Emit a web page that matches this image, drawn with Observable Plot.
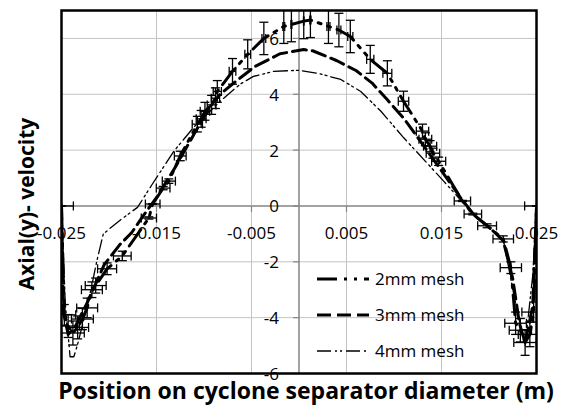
<!DOCTYPE html>
<html>
<head>
<meta charset="utf-8">
<script src="https://cdn.jsdelivr.net/npm/d3@7"></script>
<script src="https://cdn.jsdelivr.net/npm/@observablehq/plot@0.6"></script>
<style>
  html, body { margin: 0; padding: 0; background: #fff; }
  #chart svg { display: block; }
</style>
</head>
<body>
<div id="chart"></div>
<script>
// Axial velocity profiles across the cyclone separator diameter, three mesh sizes.

// 2 mm mesh (with error bars)
const mesh2X = [-0.0250, -0.0247, -0.0243, -0.0238, -0.0233, -0.0228, -0.0223, -0.0218, -0.0214, -0.0202,
  -0.0186, -0.0158, -0.0154, -0.0143, -0.0137, -0.0125, -0.0107, -0.0103, -0.0099, -0.0092,
  -0.0088, -0.0086, -0.0070, -0.0054, -0.0037, -0.0016, -0.0008, 0.0005, 0.0012, 0.0031,
  0.0042, 0.0054, 0.0075, 0.0093, 0.0110, 0.0130, 0.0133, 0.0138, 0.0141, 0.0147,
  0.0172, 0.0183, 0.0198, 0.0215, 0.0223, 0.0228, 0.0233, 0.0238, 0.0243, 0.0247, 0.0250];
const mesh2Y = [0.00, -3.90, -4.30, -4.55, -4.35, -4.05, -3.65, -3.00, -2.85, -2.25,
  -1.79, -0.43, 0.07, 0.64, 0.89, 1.79, 2.93, 3.12, 3.39, 3.62,
  3.86, 4.10, 4.82, 5.43, 6.00, 6.43, 6.50, 6.62, 6.66, 6.43,
  6.30, 6.07, 5.25, 4.75, 3.75, 2.68, 2.39, 2.14, 1.89, 1.60,
  0.18, -0.29, -0.71, -1.18, -2.21, -4.20, -4.45, -4.89, -4.60, -3.80, 0.00];
const mesh2XErr = [0.00125, 0.00120, 0.00120, 0.00120, 0.00115, 0.00115, 0.00110, 0.00110, 0.00110, 0.00100,
  0.00093, 0.00080, 0.00077, 0.00072, 0.00069, 0.00062, 0.00054, 0.00052, 0.00050, 0.00046,
  0.00044, 0.00043, 0.00035, 0.00030, 0.00020, 0.00010, 0.00005, 0.00003, 0.00006, 0.00016,
  0.00021, 0.00027, 0.00038, 0.00047, 0.00055, 0.00065, 0.00067, 0.00069, 0.00071, 0.00074,
  0.00086, 0.00092, 0.00099, 0.00108, 0.00112, 0.00114, 0.00117, 0.00119, 0.00122, 0.00124, 0.00125];
const mesh2YErr = [0.00, 0.37, 0.41, 0.43, 0.41, 0.38, 0.35, 0.28, 0.27, 0.21,
  0.17, 0.04, 0.01, 0.06, 0.08, 0.17, 0.28, 0.30, 0.32, 0.34,
  0.37, 0.39, 0.46, 0.52, 0.58, 0.61, 0.62, 0.63, 0.63, 0.61,
  0.60, 0.58, 0.50, 0.45, 0.36, 0.25, 0.23, 0.20, 0.18, 0.15,
  0.02, 0.03, 0.07, 0.11, 0.21, 0.40, 0.42, 0.46, 0.44, 0.36, 0.00];

// 3 mm mesh
const mesh3X = [-0.0250, -0.0248, -0.0243, -0.0236, -0.0222, -0.0205, -0.0189, -0.0176, -0.0165, -0.0150,
  -0.0130, -0.0110, -0.0095, -0.0083, -0.0067, -0.0046, -0.0020, 0.0005, 0.0015, 0.0040,
  0.0060, 0.0077, 0.0093, 0.0110, 0.0125, 0.0145, 0.0170, 0.0185, 0.0200, 0.0215,
  0.0225, 0.0232, 0.0238, 0.0246, 0.0250];
const mesh3Y = [0.00, -3.80, -4.60, -4.35, -3.40, -2.10, -1.40, -0.95, -0.40, 0.30,
  1.40, 2.60, 3.50, 4.00, 4.45, 5.00, 5.45, 5.60, 5.55, 5.20,
  4.85, 4.40, 3.80, 3.15, 2.45, 1.50, 0.30, -0.35, -0.75, -1.25,
  -2.60, -4.20, -4.90, -3.60, 0.00];

// 4 mm mesh
const mesh4X = [-0.0250, -0.0246, -0.0242, -0.0241, -0.0237, -0.0233, -0.0226, -0.0219, -0.0213, -0.0206,
  -0.0188, -0.0170, -0.0155, -0.0132, -0.0110, -0.0083, -0.0062, -0.0048, -0.0027, 0.0000,
  0.0020, 0.0044, 0.0065, 0.0086, 0.0110, 0.0152, 0.0177, 0.0200, 0.0215, 0.0228,
  0.0238, 0.0246, 0.0250];
const mesh4Y = [0.00, -3.50, -5.00, -5.40, -5.40, -4.95, -4.00, -3.00, -2.00, -1.00,
  -0.50, -0.05, 0.75, 1.95, 2.85, 3.75, 4.36, 4.64, 4.82, 4.86,
  4.75, 4.53, 4.10, 3.40, 2.45, 0.90, -0.05, -0.80, -1.20, -3.50,
  -5.00, -2.50, 0.00];

// Axis ticks and labels
const xTicks = [-0.025, -0.015, -0.005, 0.005, 0.015, 0.025];
const xTickLabels = ["-0.025", "-0.015", "-0.005", "0.005", "0.015", "0.025"];
const yTicks = [-6, -4, -2, 0, 2, 4, 6];
const yTickLabels = ["-6", "-4", "-2", "0", "2", "4", "6"];
const seriesNames = ["2mm mesh", "3mm mesh", "4mm mesh"];
const xTitle = "Position on cyclone separator diameter (m)";
const yTitle = "Axial(y)- velocity";

const mesh2 = mesh2X.map((x, i) => ({x, y: mesh2Y[i], ex: mesh2XErr[i], ey: mesh2YErr[i]}));
const mesh3 = mesh3X.map((x, i) => ({x, y: mesh3Y[i]}));
const mesh4 = mesh4X.map((x, i) => ({x, y: mesh4Y[i]}));
const xLab = xTicks.map((v, i) => ({v, t: xTickLabels[i]}));
const yLab = yTicks.map((v, i) => ({v, t: yTickLabels[i]}));

// line-shaped symbols for error-bar caps and axis tick marks
const SQPI = Math.sqrt(Math.PI);
const hLine = {draw(ctx, size) { const w = Math.sqrt(size); ctx.moveTo(-w, 0); ctx.lineTo(w, 0); }};
const vLine = {draw(ctx, size) { const w = Math.sqrt(size); ctx.moveTo(0, -w); ctx.lineTo(0, w); }};
const downTick = {draw(ctx, size) { const w = Math.sqrt(size); ctx.moveTo(0, 0); ctx.lineTo(0, w); }};
const leftTick = {draw(ctx, size) { const w = Math.sqrt(size); ctx.moveTo(0, 0); ctx.lineTo(-w, 0); }};

const FONT = "'Open Sans', Lato, sans-serif";
const dash2 = "20,7,3,7,3,7";
const dash3 = "14,6";
const dash4 = "14,4,2,3,2,4";
const gridColor = "#c4c4c4";
const axisColor = "#858585";
const tickFont = 17;

const chart = Plot.plot({
  width: 565,
  height: 406,
  marginLeft: 61,
  marginRight: 29,
  marginTop: 10,
  marginBottom: 33,
  x: {domain: [-0.025, 0.025], axis: null},
  y: {domain: [-6, 7], axis: null},
  style: {fontFamily: FONT, background: "white", color: "black"},
  marks: [
    // grid
    Plot.ruleX(xTicks.slice(1, -1), {stroke: gridColor, strokeWidth: 1}),
    Plot.ruleY(yTicks.filter(d => d !== 0 && d !== -6), {stroke: gridColor, strokeWidth: 1}),
    // axes through the origin
    Plot.ruleX([0], {stroke: axisColor, strokeWidth: 1.5}),
    Plot.ruleY([0], {stroke: axisColor, strokeWidth: 1.5}),
    Plot.dot(xTicks, {x: d => d, y: 0, symbol: downTick, r: 6 / SQPI, stroke: axisColor, strokeWidth: 1.2}),
    Plot.dot(yTicks, {x: 0, y: d => d, symbol: leftTick, r: 6 / SQPI, stroke: axisColor, strokeWidth: 1.2}),
    Plot.text(xLab, {x: "v", y: 0, text: "t", dy: 28, fontSize: tickFont, fill: "black", textAnchor: "middle", lineAnchor: "middle"}),
    Plot.text(yLab, {x: 0, y: "v", text: "t", dx: -20, dy: 1, fontSize: tickFont, fill: "black", textAnchor: "end", lineAnchor: "middle"}),

    // simulated profiles
    Plot.line(mesh4, {x: "x", y: "y", stroke: "black", strokeWidth: 1.3, strokeDasharray: dash4, clip: true}),
    Plot.line(mesh3, {x: "x", y: "y", stroke: "black", strokeWidth: 3, strokeDasharray: dash3, clip: true}),
    Plot.line(mesh2, {x: "x", y: "y", stroke: "black", strokeWidth: 3, strokeDasharray: dash2, clip: true}),

    // error bars on the 2 mm mesh profile
    Plot.link(mesh2, {x1: "x", x2: "x", y1: d => d.y - d.ey, y2: d => d.y + d.ey, stroke: "black", strokeWidth: 1.3, clip: true}),
    Plot.link(mesh2, {x1: d => d.x - d.ex, x2: d => d.x + d.ex, y1: "y", y2: "y", stroke: "black", strokeWidth: 1.3, clip: true}),
    Plot.dot(mesh2, {x: "x", y: d => d.y - d.ey, symbol: hLine, r: 4.5 / SQPI, stroke: "black", strokeWidth: 1.3, clip: true}),
    Plot.dot(mesh2, {x: "x", y: d => d.y + d.ey, symbol: hLine, r: 4.5 / SQPI, stroke: "black", strokeWidth: 1.3, clip: true}),
    Plot.dot(mesh2, {x: d => d.x - d.ex, y: "y", symbol: vLine, r: 4.5 / SQPI, stroke: "black", strokeWidth: 1.3, clip: true}),
    Plot.dot(mesh2, {x: d => d.x + d.ex, y: "y", symbol: vLine, r: 4.5 / SQPI, stroke: "black", strokeWidth: 1.3, clip: true}),

    Plot.frame({stroke: "black", strokeWidth: 2.5})
  ]
});

const svg = d3.select(chart);

// axis titles
svg.append("text")
  .attr("x", 306).attr("y", 391).attr("dy", "0.35em")
  .attr("text-anchor", "middle")
  .attr("font-family", FONT).attr("font-weight", "bold").attr("font-size", 23)
  .attr("fill", "black")
  .text(xTitle);
svg.append("text")
  .attr("transform", "translate(27,204) rotate(-90)")
  .attr("dy", "0.35em")
  .attr("text-anchor", "middle")
  .attr("font-family", FONT).attr("font-weight", "bold").attr("font-size", 21)
  .attr("fill", "black")
  .text(yTitle);

// legend inside the plot area, lower right
const legend = svg.append("g").attr("font-family", FONT).attr("text-anchor", "start");
const styles = [
  {dash: dash2, w: 3},
  {dash: dash3, w: 3},
  {dash: dash4, w: 1.3}
];
seriesNames.forEach((name, i) => {
  const cy = 279 + i * 36;
  legend.append("line")
    .attr("x1", 317).attr("x2", 369).attr("y1", cy).attr("y2", cy)
    .attr("stroke", "black").attr("stroke-width", styles[i].w)
    .attr("stroke-dasharray", styles[i].dash);
  legend.append("text")
    .attr("x", 375).attr("y", cy).attr("dy", "0.35em")
    .attr("text-anchor", "start")
    .attr("font-size", tickFont).attr("fill", "black")
    .text(name);
});

document.getElementById("chart").append(chart);
</script>
</body>
</html>
